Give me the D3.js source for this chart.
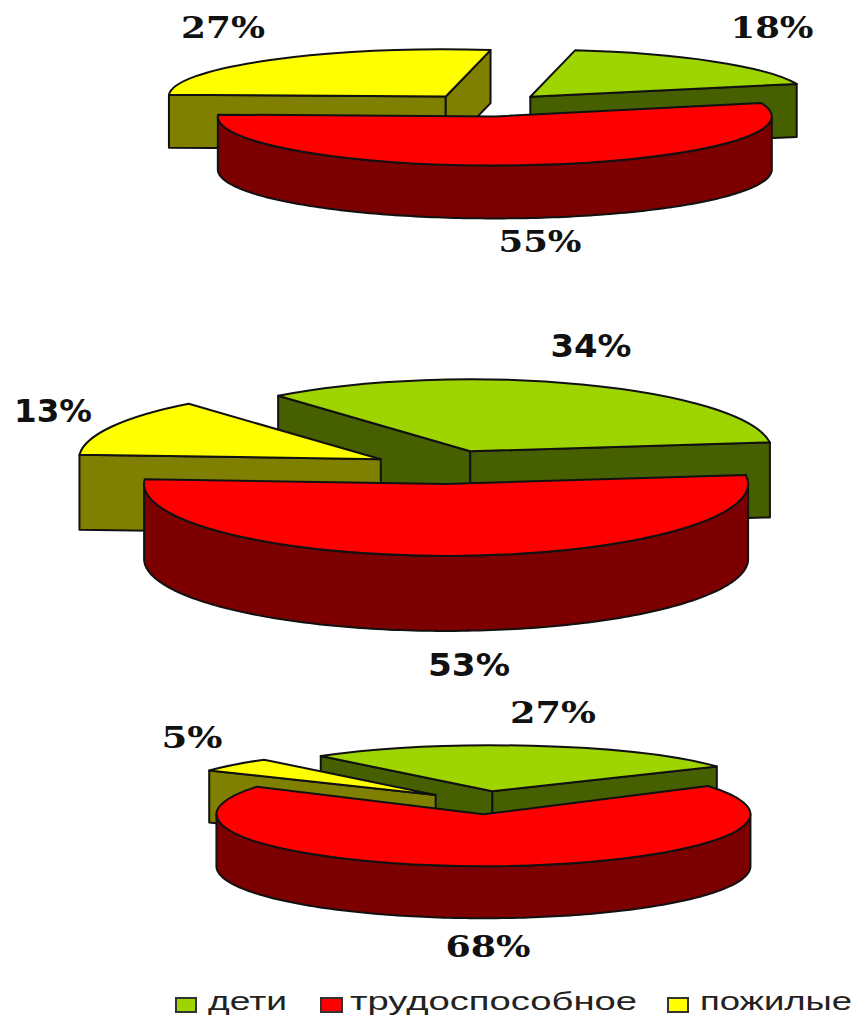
<!DOCTYPE html>
<html lang="ru">
<head>
  <meta charset="UTF-8">
  <title>Возрастная структура населения</title>
  <script src="https://d3js.org/d3.v7.min.js"></script>
  <style>
    body { margin: 0; background: #fff; }
    svg { display: block; }
    .pct { font-weight: bold; fill: #111; text-anchor: middle; }
    .legend { font-family: "Liberation Sans"; font-size: 26px; fill: #222; }
  </style>
</head>
<body>
<div id="chart"></div>

<script>
  const categories = ["дети", "трудоспособное", "пожилые"];
  const children = [18, 34, 27];
  const working = [55, 53, 68];
  const elderly = [27, 13, 5];

  const topColors = ["#9ed500", "#ff0000", "#ffff00"];
  const sideColors = ["#466000", "#7d0000", "#808000"];

  // one entry per pie: ellipse size, rotation, explode amount and label spots
  const pies = [
    { cx: 487, cy: 105, rx: 277, ry: 47, ryFront: 49, depth: 53, start: 9.3, explode: 0.235,
      font: "DejaVu Serif", fontSize: 30,
      labels: [[772, 38, 83], [540, 252, 83], [223, 38, 84]] },
    { cx: 444, cy: 467, rx: 302, ry: 72, ryFront: 72, depth: 75, start: -39.5, explode: 0.235,
      font: "DejaVu Sans", fontSize: 32,
      labels: [[591, 357, 81], [469, 676, 82], [53, 422, 78]] },
    { cx: 483, cy: 802, rx: 267, ry: 46, ryFront: 52, depth: 52, start: -40, explode: 0.235,
      font: "DejaVu Serif", fontSize: 30,
      labels: [[553, 723, 86], [488, 957, 85], [192, 748, 61]] }
  ];

  const legendSpots = [
    { box: 176, boxW: 20, text: 208, len: 79 },
    { box: 321, boxW: 21, text: 350, len: 287 },
    { box: 668, boxW: 20, text: 700, len: 152 }
  ];

  const width = 854, height = 1015;
  const rad = Math.PI / 180;
  const svg = d3.select("#chart").append("svg").attr("width", width).attr("height", height);

  const topColor = d3.scaleOrdinal().domain(categories).range(topColors);
  const sideColor = d3.scaleOrdinal().domain(categories).range(sideColors);

  const arc = d3.arc().innerRadius(0);
  const closedLine = d3.line().x(d => d[0]).y(d => d[1]);

  function drawSlice(g, s, p) {
    const name = categories[s.index];
    const ry = s.index === 1 ? p.ryFront : p.ry;
    const mid = (s.startAngle + s.endAngle) / 2;
    // exploded vertex of the slice
    const vx = p.cx + p.explode * p.rx * Math.sin(mid);
    const vy = p.cy - p.explode * ry * Math.cos(mid);
    const px = a => vx + p.rx * Math.sin(a);
    const py = a => vy - ry * Math.cos(a);

    const side = g.append("g")
      .attr("fill", sideColor(name))
      .attr("stroke", "#111")
      .attr("stroke-width", 2)
      .attr("stroke-linejoin", "round");

    // radial walls, only when they face the viewer
    const walls = [];
    if (Math.sin(s.startAngle) < 0) walls.push(s.startAngle);
    if (Math.sin(s.endAngle) > 0) walls.push(s.endAngle);
    walls.forEach(a => {
      side.append("path").attr("d", closedLine([
        [vx, vy], [px(a), py(a)], [px(a), py(a) + p.depth], [vx, vy + p.depth]
      ]) + "Z");
    });

    // outer rim, front half of the ellipse only
    [-1, 0, 1].forEach(k => {
      const lo = Math.max(s.startAngle, (90 + 360 * k) * rad);
      const hi = Math.min(s.endAngle, (270 + 360 * k) * rad);
      if (hi <= lo) return;
      const angles = d3.range(lo, hi, 0.02).concat([hi]);
      const area = d3.area().x(px).y0(py).y1(a => py(a) + p.depth);
      side.append("path").attr("d", area(angles));
    });

    g.append("path")
      .attr("d", arc({ startAngle: s.startAngle, endAngle: s.endAngle, outerRadius: p.rx }))
      .attr("transform", `translate(${vx},${vy}) scale(1,${ry / p.rx})`)
      .attr("fill", topColor(name))
      .attr("stroke", "#111")
      .attr("stroke-width", 2)
      .attr("stroke-linejoin", "round")
      .attr("vector-effect", "non-scaling-stroke");
  }

  pies.forEach((p, i) => {
    const values = [children[i], working[i], elderly[i]];
    const pie = d3.pie().sort(null)
      .startAngle(p.start * rad)
      .endAngle(p.start * rad + 2 * Math.PI);
    const slices = pie(values);
    const g = svg.append("g");

    // painter's order: back slices, then the red one in front
    [0, 2, 1].forEach(k => drawSlice(g, slices[k], p));

    values.forEach((v, k) => {
      const spot = p.labels[k];
      svg.append("text").attr("class", "pct")
        .attr("font-family", p.font)
        .attr("font-size", p.fontSize)
        .attr("x", spot[0]).attr("y", spot[1])
        .attr("textLength", spot[2])
        .attr("lengthAdjust", "spacingAndGlyphs")
        .text(v + "%");
    });
  });

  // legend
  categories.forEach((c, i) => {
    const spot = legendSpots[i];
    svg.append("rect")
      .attr("x", spot.box).attr("y", 998).attr("width", spot.boxW).attr("height", 14)
      .attr("fill", topColor(c)).attr("stroke", "#333").attr("stroke-width", 2);
    svg.append("text").attr("class", "legend")
      .attr("x", spot.text).attr("y", 1009.5)
      .attr("textLength", spot.len)
      .attr("lengthAdjust", "spacingAndGlyphs")
      .text(c);
  });
</script>
</body>
</html>
